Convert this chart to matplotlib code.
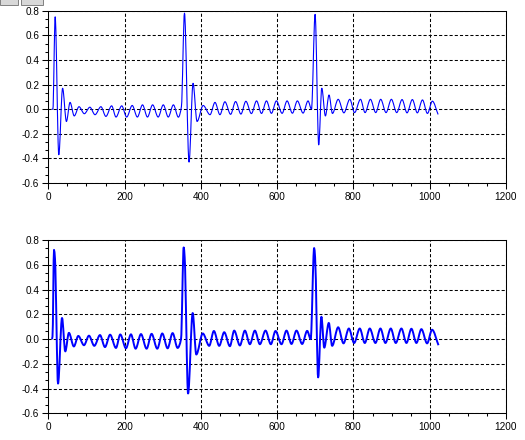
import numpy as np
import matplotlib
matplotlib.use("Agg")
import matplotlib.pyplot as plt
from matplotlib.path import Path
from matplotlib.patches import PathPatch, Rectangle
from matplotlib.ticker import MultipleLocator, FixedLocator

# ---------------- data (extrema) ----------------
top_x = [9, 12, 18, 27.5, 37.5, 47.5, 57, 68, 80.5, 94.5, 109, 122.5, 138, 151, 166,
         177.5, 192.5, 205.5, 220, 233.5, 247, 260, 273.5, 288, 301.5, 314.5, 328, 341,
         349, 357, 369, 379.5, 390, 406, 424, 437, 450, 463, 478, 491, 505, 518, 532.5,
         546, 559, 572, 585, 598, 613, 626, 640, 653, 668, 681, 690, 699.5, 709, 717,
         726.5, 736, 745, 760, 775, 790.5, 803, 818.5, 830.5, 844.5, 858.5, 871.5, 885.5,
         899.5, 913.5, 927.5, 940.5, 954.5, 967.5, 981, 994, 1007, 1022]
top_y = [0.0, 0.0, 0.75, -0.37, 0.17, -0.10, 0.055, -0.055, 0.02, -0.037, 0.016, -0.045,
         0.02, -0.059, 0.027, -0.064, 0.027, -0.064, 0.03, -0.064, 0.035, -0.064, 0.035,
         -0.064, 0.035, -0.064, 0.035, -0.065, 0.02, 0.78, -0.43, 0.21, -0.10, 0.03,
         -0.045, 0.055, -0.045, 0.06, -0.042, 0.062, -0.04, 0.064, -0.036, 0.067, -0.035,
         0.067, -0.034, 0.067, -0.034, 0.067, -0.033, 0.067, -0.032, 0.067, 0.0, 0.77,
         -0.29, 0.17, -0.055, 0.115, -0.035, 0.08, -0.03, 0.08, -0.028, 0.08, -0.028,
         0.08, -0.028, 0.08, -0.028, 0.08, -0.028, 0.078, -0.03, 0.078, -0.03, 0.075,
         -0.035, 0.065, -0.043]

bot_x = [9, 11, 15, 17.5, 25.5, 36, 44.5, 54, 67, 78.7, 93.5, 106.6, 120.6, 135.5, 148.6,
         162, 177.4, 188.7, 203.6, 216.7, 228.9, 243, 257.7, 270.8, 285.7, 298.8, 312.8,
         325.9, 339, 348, 355, 357.5, 366.5, 378.5, 388, 405, 421.9, 434.1, 448.1, 461.2,
         476.1, 487.4, 502.3, 515.4, 528.5, 541.6, 554.7, 569.5, 583.5, 595.7, 611.4,
         624.5, 637.6, 650.7, 665.6, 678.7, 688, 697, 699.5, 707.5, 716, 723.5, 735.4,
         744.2, 760, 774, 788, 801.8, 816.6, 829.8, 842.8, 857.7, 870.8, 883.9, 897.9,
         911, 925.8, 939, 952, 965.1, 978.2, 993.1, 1006.2, 1023]
bot_y = [0.0, 0.02, 0.72, 0.65, -0.36, 0.17, -0.10, 0.05, -0.06, 0.025, -0.05, 0.027,
         -0.055, 0.032, -0.065, 0.035, -0.072, 0.037, -0.075, 0.038, -0.078, 0.04, -0.078,
         0.042, -0.078, 0.045, -0.075, 0.048, -0.072, 0.0, 0.74, 0.66, -0.44, 0.21,
         -0.125, 0.045, -0.055, 0.065, -0.055, 0.055, -0.058, 0.068, -0.052, 0.068,
         -0.042, 0.068, -0.042, 0.068, -0.042, 0.065, -0.042, 0.068, -0.04, 0.068, -0.04,
         0.066, 0.0, 0.735, 0.66, -0.31, 0.18, -0.07, 0.13, -0.055, 0.095, -0.035, 0.085,
         -0.032, 0.085, -0.032, 0.085, -0.032, 0.085, -0.032, 0.085, -0.032, 0.085,
         -0.032, 0.083, -0.032, 0.08, -0.035, 0.075, -0.05]

x_ticks = [0, 200, 400, 600, 800, 1000, 1200]
x_tick_labels = ["0", "200", "400", "600", "800", "1000", "1200"]
y_ticks = [-0.6, -0.4, -0.2, 0.0, 0.2, 0.4, 0.6, 0.8]
y_tick_labels = ["-0.6", "-0.4", "-0.2", "0.0", "0.2", "0.4", "0.6", "0.8"]


# ---------------- helpers: smooth (monotone cubic) path through the read points ----------------
def pchip_slopes(x, y):
    x = np.asarray(x, float)
    y = np.asarray(y, float)
    h = np.diff(x)
    d = np.diff(y) / h
    m = np.zeros_like(y)
    for k in range(1, len(x) - 1):
        if d[k - 1] * d[k] > 0:
            w1 = 2 * h[k] + h[k - 1]
            w2 = h[k] + 2 * h[k - 1]
            m[k] = (w1 + w2) / (w1 / d[k - 1] + w2 / d[k])
    m[0] = 0.0
    m[-1] = d[-1]
    return m


def smooth_path(x, y):
    m = pchip_slopes(x, y)
    verts = [(x[0], y[0])]
    codes = [Path.MOVETO]
    for i in range(len(x) - 1):
        dx = x[i + 1] - x[i]
        verts += [(x[i] + dx / 3, y[i] + m[i] * dx / 3),
                  (x[i + 1] - dx / 3, y[i + 1] - m[i + 1] * dx / 3),
                  (x[i + 1], y[i + 1])]
        codes += [Path.CURVE4] * 3
    return Path(verts, codes)


plt.rcParams["font.family"] = ["Liberation Sans", "DejaVu Sans"]

W, H = 525, 440
fig = plt.figure(figsize=(W / 100, H / 100), dpi=100)
fig.patch.set_facecolor("white")

left = 48.3 / W
width = (506 - 48.3) / W
ax_top = fig.add_axes([left, 1 - 183.0 / H, width, (183.0 - 10.7) / H])
ax_bot = fig.add_axes([left, 1 - 413.3 / H, width, (413.3 - 240.0) / H])

for ax, xs, ys, lw in [(ax_top, top_x, top_y, 0.8), (ax_bot, bot_x, bot_y, 1.4)]:
    ax.set_xlim(0, 1200)
    ax.set_ylim(-0.6, 0.8)
    ax.set_axisbelow(True)
    ax.grid(True, which="major", color="black", linestyle=(0, (3, 2)), linewidth=0.75)
    ax.xaxis.set_major_locator(FixedLocator(x_ticks))
    ax.set_xticklabels(x_tick_labels)
    ax.yaxis.set_major_locator(FixedLocator(y_ticks))
    ax.set_yticklabels(y_tick_labels)
    ax.xaxis.set_minor_locator(MultipleLocator(50))
    ax.yaxis.set_minor_locator(MultipleLocator(0.2 / 3))
    ax.tick_params(which="major", direction="out", length=4, width=0.75,
                   labelsize=7.2, pad=2.5, colors="black")
    ax.tick_params(which="minor", direction="out", length=2, width=0.75, colors="black")
    for s in ax.spines.values():
        s.set_linewidth(0.75)
        s.set_color("black")
    patch = PathPatch(smooth_path(xs, ys), facecolor="none", edgecolor="#0000ff",
                      linewidth=lw, joinstyle="round", capstyle="butt")
    ax.add_patch(patch)

# little window buttons in the top-left corner of the original screenshot
for x0, w in [(0, 18), (21, 22)]:
    fig.patches.append(Rectangle((x0 / W, 1 - 5.5 / H), w / W, 6 / H,
                                 transform=fig.transFigure, facecolor="#d8d8d8",
                                 edgecolor="#808080", linewidth=0.7))

fig.savefig("out.png", dpi=100, facecolor="white")
